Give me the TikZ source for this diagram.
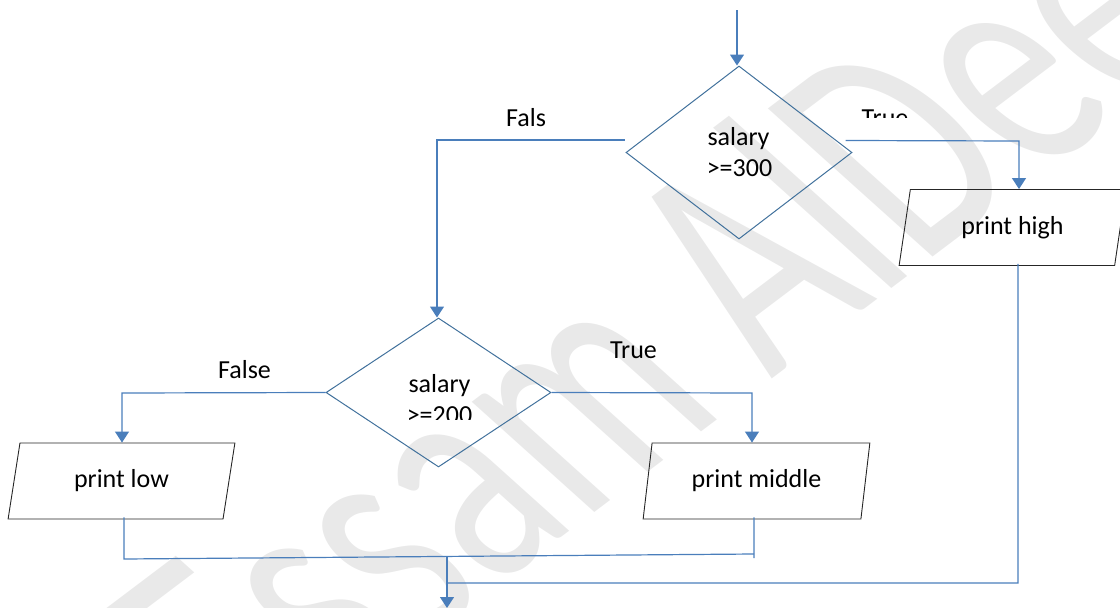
\documentclass[tikz,border=0pt]{standalone}
\usepackage{fontspec}
\setmainfont{Carlito}
\usetikzlibrary{shapes.geometric,arrows.meta,calc}
\definecolor{linkblue}{HTML}{4A7EBB}
\definecolor{edgeblue}{HTML}{41719C}
\definecolor{markgray}{HTML}{E9E9E9}

\begin{document}
\begin{tikzpicture}[x=1pt,y=-1pt,
  flow/.style={draw=linkblue, line width=1.2pt},
  arr/.style={flow, -{Triangle[length=11pt,width=14pt]}},
  decision/.style={diamond, draw=edgeblue, line width=1pt, inner sep=0pt},
  io/.style={trapezium, trapezium left angle=76, trapezium right angle=104,
    trapezium stretches=true, draw=black!85, line width=0.9pt,
    minimum width=227pt, minimum height=76pt, inner sep=0pt,
    font=\fontsize{26}{31}\selectfont},
  lbl/.style={font=\fontsize{26}{31}\selectfont, inner sep=0pt, anchor=base},
]
\useasboundingbox (0,0) rectangle (1120,608);

% watermark
\begin{scope}[shift={(258,767)}]
  \node[text=markgray, font=\fontsize{380}{380}\selectfont,
    yscale=0.824, rotate=42.5, xscale=0.66,
    anchor=base west, inner sep=0pt] (mark) at (0,0) {Essam AlDeen};
\end{scope}

% decisions
\node[decision, minimum width=226pt, minimum height=173pt] (d1) at (739,152.5) {};
\node[decision, minimum width=225pt, minimum height=149pt] (d2) at (438.5,392.5) {};

% outputs
\node[io] (low)  at (121.5,481) {print low};
\node[io] (mid)  at (756.5,481) {print middle};
\node[io] (high) at (1012.5,227.5) {print high};

% decision texts
\node[lbl] (t1a) at (738.5,145) {salary};
\node[lbl] (t1b) at (739.5,176) {>=300};
\node[lbl] (t2a) at (439.5,392) {salary};
\begin{scope}
  \clip (380,380) rectangle (500,419);
  \node[lbl] (t2b) at (439.5,423) {>=200};
\end{scope}

% branch labels
\node[lbl] (lf1) at (526,126) {Fals};
\begin{scope}
  \clip (840,95) rectangle (930,117);
  \node[lbl] (lt1) at (885,126) {True};
\end{scope}
\node[lbl] (lf2) at (244.5,378) {False};
\node[lbl] (lt2) at (633.5,358) {True};

% bend points
\coordinate (start) at (737,10);
\coordinate (fk1) at (437,140);
\coordinate (tk1) at (1019,141);
\coordinate (fk2) at (122,393);
\coordinate (tk2) at (752,393);
\coordinate (lowb) at (124,559);
\coordinate (midb) at (754,554);
\coordinate (midend) at (754,558);
\coordinate (highb) at (1018,583);
\coordinate (join) at (447,583);
\coordinate (jtop) at (447,557);
\coordinate (out) at (447,608);

% connectors
\draw[arr] (start) -- (start |- d1.north);
\draw[arr] ($(d1.west)+(-1,-12.5)$) -- (fk1) -- (fk1 |- d2.north);
\draw[arr] ($(d1.east)+(-7,-12)$) -- (tk1) -- (tk1 |- high.north);
\draw[arr] (d2.west) -- (fk2) -- (fk2 |- low.north);
\draw[arr] (d2.east) -- (tk2) -- (tk2 |- mid.north);

\draw[flow] ($(low.south)+(2.5,-2)$) -- (lowb) -- (midb);
\draw[flow] ($(mid.south)+(-2.5,-2)$) -- (midend);
\draw[flow] ($(high.south)+(5.5,-2)$) -- (highb) -- (join);
\draw[arr] (jtop) -- (out);
\end{tikzpicture}
\end{document}
